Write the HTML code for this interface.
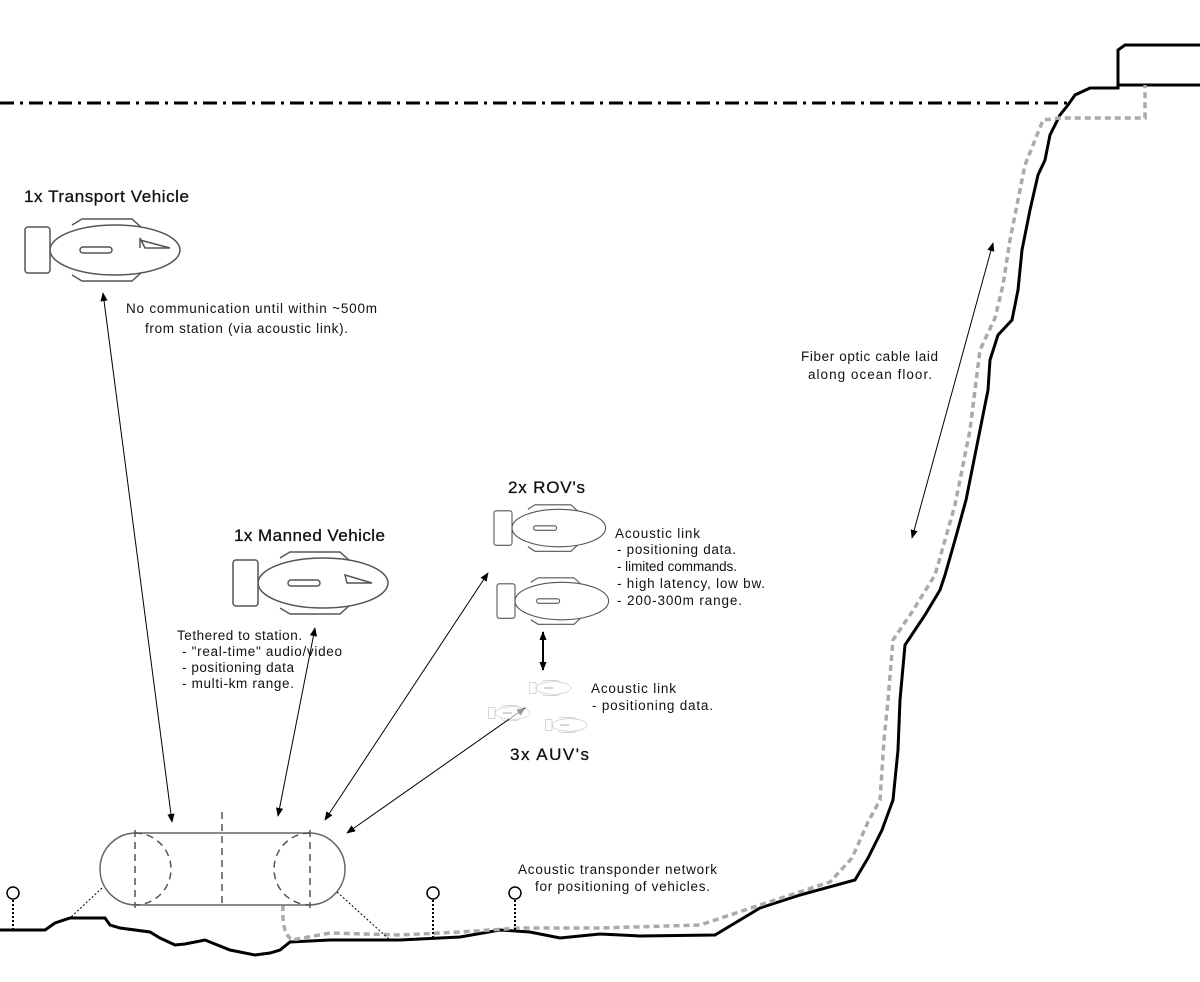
<!DOCTYPE html>
<html><head><style>body{margin:0;background:#fff}svg{display:block}text{font-family:"Liberation Sans",sans-serif;fill:#111}</style></head><body>
<svg width="1200" height="982" viewBox="0 0 1200 982" xmlns="http://www.w3.org/2000/svg">
<defs>
<marker id="a" viewBox="0 0 10 10" refX="9" refY="5" markerWidth="9" markerHeight="9" markerUnits="userSpaceOnUse" orient="auto-start-reverse"><path d="M0,1 L10,5 L0,9 z" fill="#000"/></marker>
<g id="veh">
<path d="M22,-25 L32,-31 L82,-31 L92,-22 M22,25 L32,31 L82,31 L92,22" fill="none" stroke="#555" stroke-width="1.5"/>
<ellipse cx="65" cy="0" rx="65" ry="25" fill="#fff" stroke="#555" stroke-width="1.5"/>
<rect x="-25" y="-23" width="25" height="46" rx="3" fill="#fff" stroke="#555" stroke-width="1.5"/>
<rect x="30" y="-3" width="32" height="6" rx="3" fill="none" stroke="#555" stroke-width="1.5"/>
</g>
</defs>
<line x1="0" y1="103" x2="1068" y2="103" stroke="#000" stroke-width="3" stroke-dasharray="14,6,3,6"/>
<path d="M1200,45 L1125,45 L1118,50 L1118,88 L1090,88 L1075,95 L1068,105 L1060,115 L1050,135 L1045,160 L1038,175 L1030,210 L1022,250 L1018,290 L1012,320 L998,335 L990,360 L988,390 L984,410 L978,440 L972,470 L966,500 L955,540 L945,575 L940,590 L925,615 L905,645 L900,700 L898,750 L893,800 L882,830 L868,858 L855,880 L800,895 L760,908 L740,920 L715,935 L640,936 L600,934 L560,938 L530,932 L500,930 L460,937 L400,940 L330,940 L290,942 L280,950 L270,953 L255,955 L230,950 L205,940 L185,944 L175,945 L160,938 L150,932 L120,928 L110,925 L105,918 L70,918 L55,923 L45,930 L0,930" fill="none" stroke="#000" stroke-width="3"/>
<line x1="1118" y1="85" x2="1200" y2="85" stroke="#000" stroke-width="3"/>
<path d="M283,905 C282,925 285,935 292,940 L330,933 L400,935 L460,932 L520,928 L600,928 L700,925 L760,905 L830,882 L852,858 L868,822 L880,800 L884,740 L888,700 L893,640 L912,612 L935,575 L955,505 L970,430 L980,350 L995,318 L1003,285 L1010,240 L1018,200 L1025,165 L1035,140 L1043,120 L1060,118 L1145,118 L1145,85" fill="none" stroke="#aaa" stroke-width="3.5" stroke-dasharray="6,4"/>
<g stroke="#000" stroke-width="1" fill="none">
<line x1="103" y1="293" x2="172" y2="822" marker-start="url(#a)" marker-end="url(#a)"/>
<line x1="315" y1="628" x2="278" y2="816" marker-start="url(#a)" marker-end="url(#a)"/>
<line x1="488" y1="573" x2="325" y2="820" marker-start="url(#a)" marker-end="url(#a)"/>
<line x1="525" y1="708" x2="347" y2="833" marker-start="url(#a)" marker-end="url(#a)"/>
<line x1="543" y1="632" x2="543" y2="670" stroke-width="2" marker-start="url(#a)" marker-end="url(#a)"/>
<line x1="993" y1="243" x2="912" y2="538" marker-start="url(#a)" marker-end="url(#a)"/>
</g>
<use href="#veh" transform="translate(50,250)"/>
<path d="M140,238 L145,248 L170,248 L140,240 Z M140,238 L140,248" fill="none" stroke="#555" stroke-width="1.5"/>
<use href="#veh" transform="translate(258,583)"/>
<path d="M345,575 L347,583 L372,583 Z" fill="none" stroke="#555" stroke-width="1.5"/>
<use href="#veh" transform="translate(512,528) scale(0.72,0.75)"/>
<use href="#veh" transform="translate(515,601) scale(0.72,0.75)"/>
<g opacity="0.6">
<use href="#veh" transform="translate(536,688) scale(0.27,0.25)"/>
<use href="#veh" transform="translate(495,713) scale(0.27,0.25)"/>
<use href="#veh" transform="translate(552,725) scale(0.27,0.25)"/>
</g>
<rect x="100" y="833" width="245" height="72" rx="36" fill="none" stroke="#666" stroke-width="1.5"/>
<g stroke="#555" stroke-width="1.5" fill="none" stroke-dasharray="7,5">
<line x1="135" y1="830" x2="135" y2="908"/><line x1="222" y1="812" x2="222" y2="908"/><line x1="310" y1="830" x2="310" y2="908"/>
<path d="M135,833 A36,36 0 0 1 135,905"/><path d="M310,833 A36,36 0 0 0 310,905"/>
</g>
<g stroke="#000" stroke-width="1" stroke-dasharray="2,2" fill="none">
<line x1="102" y1="888" x2="70" y2="918"/><line x1="337" y1="892" x2="390" y2="940"/>
</g>
<g stroke="#000" stroke-width="2" stroke-dasharray="2,2" fill="none">
<line x1="13" y1="900" x2="13" y2="930"/><line x1="433" y1="900" x2="433" y2="940"/><line x1="515" y1="900" x2="515" y2="932"/>
</g>
<g fill="#fff" stroke="#000" stroke-width="1.5"><circle cx="13" cy="893" r="6"/><circle cx="433" cy="893" r="6"/><circle cx="515" cy="893" r="6"/></g>
<g font-size="17" stroke="#111" stroke-width="0.3"><text x="24" y="202" textLength="165">1x Transport Vehicle</text><text x="234" y="541" textLength="151">1x Manned Vehicle</text><text x="508" y="493" textLength="77">2x ROV's</text><text x="510" y="760" textLength="79">3x AUV's</text></g>
<g font-size="13.5" lengthAdjust="spacingAndGlyphs">
<text x="126" y="313" textLength="251">No communication until within ~500m</text><text x="145" y="333" textLength="203">from station (via acoustic link).</text>
<text x="177" y="640" textLength="125">Tethered to station.</text><text x="182" y="656" textLength="160"> - "real-time" audio/video</text><text x="182" y="672" textLength="112"> - positioning data</text><text x="182" y="688" textLength="112"> - multi-km range.</text>
<text x="615" y="538" textLength="85">Acoustic link</text><text x="617" y="554" textLength="119"> - positioning data.</text><text x="617" y="571" textLength="120"> - limited commands.</text><text x="617" y="588" textLength="148"> - high latency, low bw.</text><text x="617" y="605" textLength="125"> - 200-300m range.</text>
<text x="591" y="693" textLength="85">Acoustic link</text><text x="592" y="710" textLength="121"> - positioning data.</text>
<text x="518" y="874" textLength="199">Acoustic transponder network</text><text x="535" y="891" textLength="175">for positioning of vehicles.</text>
<text x="801" y="361" textLength="137">Fiber optic cable laid</text><text x="808" y="379" textLength="124">along ocean floor.</text>
</g>
</svg>
</body></html>
